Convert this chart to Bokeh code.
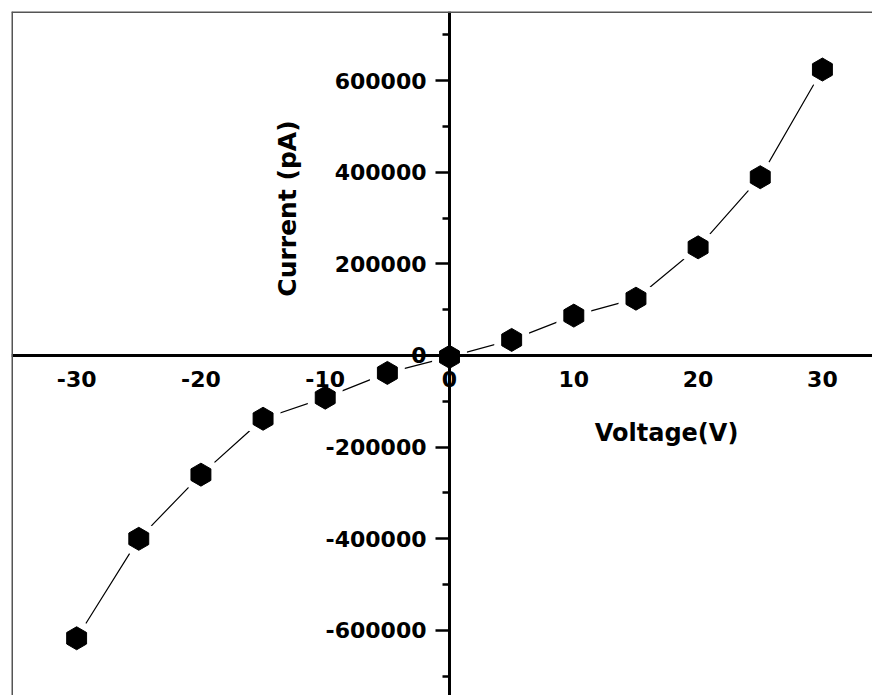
import math
from bokeh.plotting import figure
from bokeh.models import Range1d, FixedTicker, Span, Label
from bokeh.embed import file_html
from bokeh.resources import INLINE

voltage = [-30, -25, -20, -15, -10, -5, 0, 5, 10, 15, 20, 25, 30]
current = [-617000, -400000, -260000, -138000, -92000, -38000, -3000,
           34000, 87000, 124000, 236000, 389000, 624000]
x_ticks = [-30, -20, -10, 0, 10, 20, 30]
x_tick_labels = ["-30", "-20", "-10", "0", "10", "20", "30"]
y_ticks = [-600000, -400000, -200000, 0, 200000, 400000, 600000]
y_tick_labels = ["-600000", "-400000", "-200000", "0", "200000", "400000", "600000"]
y_minor = [-700000, -500000, -300000, -100000, 100000, 300000, 500000, 700000]

X0, X1 = -35.24, 34.03
Y0, Y1 = -741900, 750600

p = figure(width=872, height=695, output_backend="svg", toolbar_location=None,
           x_range=Range1d(X0, X1), y_range=Range1d(Y0, Y1),
           min_border_left=11, min_border_top=11, min_border_right=0, min_border_bottom=0)
p.outline_line_color = None
p.xgrid.visible = False
p.ygrid.visible = False
p.background_fill_color = "white"
p.border_fill_color = "white"

FONT = "DejaVu Sans"

xa = p.xaxis[0]
xa.fixed_location = 0
xa.ticker = FixedTicker(ticks=x_ticks)
xa.major_label_overrides = {t: s for t, s in zip(x_ticks, x_tick_labels)}
xa.axis_line_width = 3
xa.axis_line_color = "black"
xa.major_tick_out = 0
xa.major_tick_in = 0
xa.minor_tick_out = 0
xa.minor_tick_in = 0
xa.major_label_standoff = 16
xa.major_label_text_font = FONT
xa.major_label_text_font_style = "bold"
xa.major_label_text_font_size = "22px"
xa.major_label_text_color = "black"

ya = p.yaxis[0]
ya.fixed_location = 0
ya.ticker = FixedTicker(ticks=y_ticks, minor_ticks=y_minor)
ya.major_label_overrides = {t: s for t, s in zip(y_ticks, y_tick_labels)}
ya.axis_line_width = 3
ya.axis_line_color = "black"
ya.major_tick_out = 14
ya.major_tick_in = 0
ya.minor_tick_out = 7
ya.minor_tick_in = 0
ya.major_tick_line_width = 2.5
ya.minor_tick_line_width = 2.5
ya.major_tick_line_color = "black"
ya.minor_tick_line_color = "black"
ya.major_label_standoff = 9
ya.major_label_text_font = FONT
ya.major_label_text_font_style = "bold"
ya.major_label_text_font_size = "22px"
ya.major_label_text_color = "black"

# frame borders (left and top visible in the cropped original)
p.add_layout(Span(location=X0, dimension="height", line_color="#555555", line_width=3))
p.add_layout(Span(location=Y1, dimension="width", line_color="#555555", line_width=3))

p.line(voltage, current, line_color="black", line_width=1.2)
p.scatter(voltage, current, marker="hex", size=31, angle=math.pi / 6,
          fill_color="black", line_color="white", line_width=8)
p.scatter(voltage, current, marker="hex", size=23, angle=math.pi / 6,
          fill_color="black", line_color="black", line_width=1)

p.add_layout(Label(x=17.46, y=-170200, text="Voltage(V)", text_align="center",
                   text_baseline="middle", text_font=FONT, text_font_style="bold",
                   text_font_size="24px", text_color="black"))
p.add_layout(Label(x=-13.03, y=320700, text="Current (pA)", text_align="center",
                   text_baseline="middle", angle=math.pi / 2, text_font=FONT,
                   text_font_style="bold", text_font_size="25px", text_color="black"))

open("out.html", "w").write(file_html(p, INLINE))
